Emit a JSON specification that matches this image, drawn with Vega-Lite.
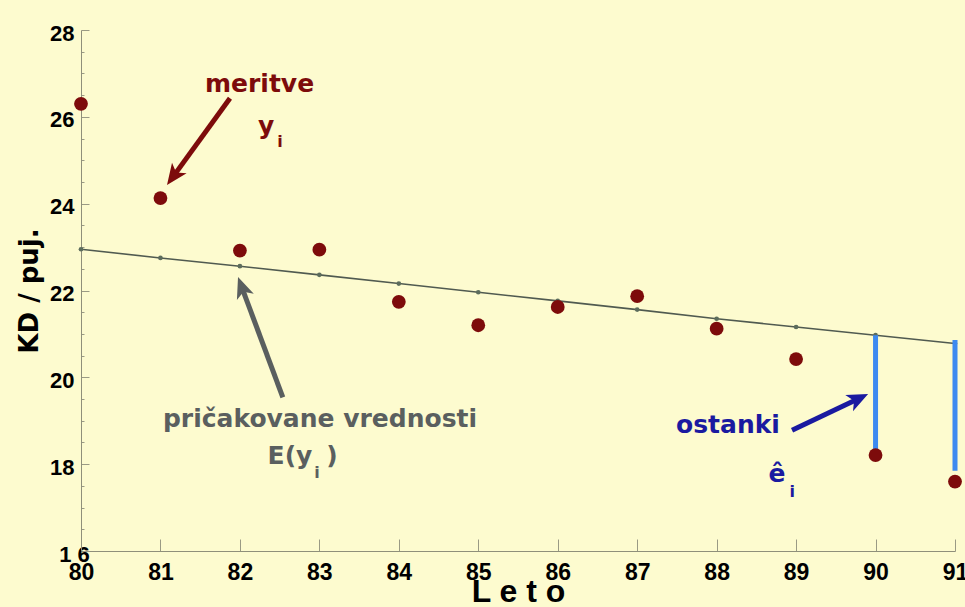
{
  "$schema": "https://vega.github.io/schema/vega-lite/v6.json",
  "width": 874,
  "height": 521,
  "autosize": {"type": "none"},
  "padding": {"left": 81, "top": 30, "right": 10, "bottom": 56},
  "background": "#fdfbcf",
  "config": {"view": {"stroke": null}},
  "datasets": {
    "meas": [
      {"leto": 80, "kd": 26.3}, {"leto": 81, "kd": 24.13}, {"leto": 82, "kd": 22.92},
      {"leto": 83, "kd": 22.94}, {"leto": 84, "kd": 21.74}, {"leto": 85, "kd": 21.2},
      {"leto": 86, "kd": 21.62}, {"leto": 87, "kd": 21.87}, {"leto": 88, "kd": 21.12},
      {"leto": 89, "kd": 20.42}, {"leto": 90, "kd": 18.21}, {"leto": 91, "kd": 17.6}
    ],
    "fit": [
      {"leto": 80, "kd": 22.95}, {"leto": 81, "kd": 22.75}, {"leto": 82, "kd": 22.56},
      {"leto": 83, "kd": 22.36}, {"leto": 84, "kd": 22.16}, {"leto": 85, "kd": 21.96},
      {"leto": 86, "kd": 21.76}, {"leto": 87, "kd": 21.56}, {"leto": 88, "kd": 21.35},
      {"leto": 89, "kd": 21.16}, {"leto": 90, "kd": 20.97}, {"leto": 91, "kd": 20.78}
    ],
    "resid": [
      {"leto": 90, "kd": 20.97, "kd2": 18.25},
      {"leto": 91, "kd": 20.86, "kd2": 17.85}
    ],
    "arrows": [
      {"grp": "m", "leto": 81.875, "kd": 26.43, "leto2": 81.171, "kd2": 24.652, "ang": 215.9},
      {"grp": "p", "leto": 82.54, "kd": 19.54, "leto2": 82.029, "kd2": 22.05, "ang": 339.6},
      {"grp": "o", "leto": 88.949, "kd": 18.783, "leto2": 89.77, "kd2": 19.495, "ang": 64.65}
    ],
    "labels": [
      {"grp": "m", "kind": "main", "leto": 82.247, "kd": 26.571, "txt": "meritve"},
      {"grp": "m", "kind": "main", "leto": 82.33, "kd": 25.6, "txt": "y"},
      {"grp": "m", "kind": "sub", "leto": 82.505, "kd": 25.3, "txt": "i"},
      {"grp": "p", "kind": "main", "leto": 83.008, "kd": 18.853, "txt": "pričakovane vrednosti"},
      {"grp": "p", "kind": "main", "leto": 82.63, "kd": 18.0, "txt": "E(y"},
      {"grp": "p", "kind": "sub", "leto": 82.97, "kd": 17.677, "txt": "i"},
      {"grp": "p", "kind": "main", "leto": 83.16, "kd": 18.0, "txt": ")"},
      {"grp": "o", "kind": "main", "leto": 88.143, "kd": 18.714, "txt": "ostanki"},
      {"grp": "o", "kind": "main", "leto": 88.76, "kd": 17.585, "txt": "ê"},
      {"grp": "o", "kind": "sub", "leto": 88.95, "kd": 17.24, "txt": "i"}
    ]
  },
  "encoding": {
    "x": {
      "field": "leto",
      "type": "quantitative",
      "scale": {"domain": [80, 91], "nice": false, "zero": false},
      "axis": {
        "title": "L e t o",
        "titleFont": "Liberation Sans",
        "titleFontSize": 32,
        "titleFontWeight": "bold",
        "titleColor": "#000000",
        "titlePadding": -8,
        "values": [80, 81, 82, 83, 84, 85, 86, 87, 88, 89, 90, 91],
        "format": "d",
        "labelFont": "Liberation Sans",
        "labelFontSize": 23,
        "labelFontWeight": "bold",
        "labelColor": "#000000",
        "labelPadding": 22,
        "labelFlush": false,
        "labelOverlap": false,
        "tickSize": -12,
        "tickColor": "#9a9a84",
        "domainColor": "#8f8f7a",
        "grid": false
      }
    },
    "y": {
      "field": "kd",
      "type": "quantitative",
      "scale": {"domain": [16, 28], "nice": false, "zero": false},
      "axis": {
        "title": "KD / puj.",
        "titleFont": "DejaVu Sans",
        "titleFontSize": 26,
        "titleFontWeight": "bold",
        "titleColor": "#000000",
        "titlePadding": 7,
        "values": [16, 16.5, 17, 17.5, 18, 18.5, 19, 19.5, 20, 20.5, 21, 21.5, 22, 22.5, 23, 23.5, 24, 24.5, 25, 25.5, 26, 26.5, 27, 27.5, 28],
        "labelExpr": "datum.value % 2 === 0 ? (datum.value === 16 ? '1 6\u00a0\u00a0\u00a0' : '' + datum.value) : ''",
        "labelFont": "Liberation Sans",
        "labelFontSize": 22,
        "labelFontWeight": "bold",
        "labelColor": "#000000",
        "labelPadding": 15,
        "labelOffset": 3,
        "labelAlign": {"condition": {"test": "datum.value === 16", "value": "center"}, "value": "right"},
        "labelOverlap": false,
        "labelFlush": false,
        "tickSize": {"condition": {"test": "datum.value % 2 === 0", "value": -8}, "value": -3},
        "tickColor": "#9a9a84",
        "domainColor": "#8f8f7a",
        "grid": false
      }
    }
  },
  "layer": [
    {
      "data": {"name": "fit"},
      "mark": {"type": "line", "color": "#505a50", "strokeWidth": 1.6}
    },
    {
      "data": {"name": "fit"},
      "mark": {"type": "point", "filled": true, "color": "#5c6c5c", "size": 22, "opacity": 1}
    },
    {
      "data": {"name": "resid"},
      "mark": {"type": "rule", "color": "#3d8af0", "strokeWidth": 5},
      "encoding": {"y2": {"field": "kd2"}}
    },
    {
      "data": {"name": "meas"},
      "mark": {"type": "point", "filled": true, "color": "#7d0b0b", "size": 190, "opacity": 1}
    },
    {
      "data": {"name": "arrows"},
      "mark": {"type": "rule", "strokeWidth": 5},
      "encoding": {
        "x2": {"field": "leto2"},
        "y2": {"field": "kd2"},
        "color": {"field": "grp", "type": "nominal", "scale": {"domain": ["m", "p", "o"], "range": ["#7d0b0b", "#5a5f5f", "#1a1aa0"]}, "legend": null}
      }
    },
    {
      "data": {"name": "arrows"},
      "mark": {"type": "point", "filled": true, "opacity": 1, "size": 576, "shape": "M0,-1L0.75,0.75L0,0.3L-0.75,0.75Z"},
      "encoding": {
        "x": {"field": "leto2", "type": "quantitative"},
        "y": {"field": "kd2", "type": "quantitative"},
        "angle": {"field": "ang", "type": "quantitative", "scale": null},
        "color": {"field": "grp", "type": "nominal", "legend": null}
      }
    },
    {
      "data": {"name": "labels"},
      "transform": [{"filter": "datum.kind === 'main'"}],
      "mark": {"type": "text", "font": "DejaVu Sans", "fontWeight": "bold", "fontSize": 25, "align": "center", "baseline": "alphabetic"},
      "encoding": {
        "text": {"field": "txt"},
        "color": {"field": "grp", "type": "nominal", "scale": {"domain": ["m", "p", "o"], "range": ["#7d0b0b", "#5a5f5f", "#1a1aa0"]}, "legend": null}
      }
    },
    {
      "data": {"name": "labels"},
      "transform": [{"filter": "datum.kind === 'sub'"}],
      "mark": {"type": "text", "font": "DejaVu Sans", "fontWeight": "bold", "fontSize": 16, "align": "center", "baseline": "alphabetic"},
      "encoding": {
        "text": {"field": "txt"},
        "color": {"field": "grp", "type": "nominal", "legend": null}
      }
    }
  ]
}
